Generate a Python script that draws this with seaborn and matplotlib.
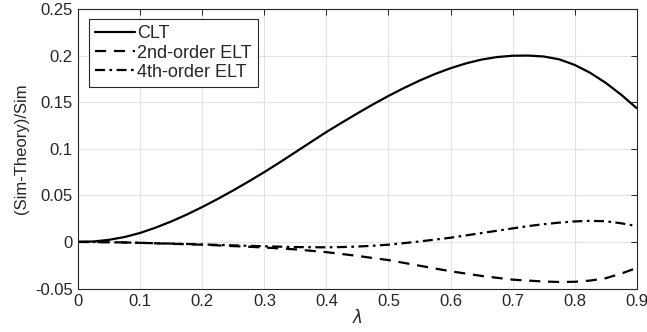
import numpy as np
import pandas as pd
import matplotlib
matplotlib.use("Agg")
import matplotlib.pyplot as plt
import seaborn as sns

lam = [round(0.025 * i, 3) for i in range(37)]
clt = [0.0, 0.0005, 0.0023, 0.0053, 0.0097, 0.0154, 0.0220, 0.0294, 0.0375, 0.0462,
       0.0554, 0.0650, 0.0750, 0.0855, 0.0963, 0.1072, 0.1180, 0.1281, 0.1380, 0.1476,
       0.1567, 0.1652, 0.1731, 0.1802, 0.1864, 0.1916, 0.1957, 0.1984, 0.1998, 0.2000,
       0.1990, 0.1960, 0.1900, 0.1815, 0.1708, 0.1580, 0.1436]
elt2 = [0.0, -0.0001, -0.0003, -0.0006, -0.001, -0.0015, -0.002, -0.0025, -0.003, -0.0037,
        -0.0045, -0.0052, -0.006, -0.007, -0.008, -0.0095, -0.011, -0.013, -0.015, -0.0173,
        -0.0195, -0.0225, -0.0255, -0.0285, -0.0315, -0.034, -0.0365, -0.0385, -0.0405, -0.0415,
        -0.0425, -0.043, -0.0428, -0.0415, -0.039, -0.034, -0.028]
elt4 = [0.0, -0.0001, -0.0003, -0.0006, -0.001, -0.0014, -0.0018, -0.0022, -0.0027, -0.0032,
        -0.0037, -0.0042, -0.0047, -0.0051, -0.0055, -0.0057, -0.0058, -0.0055, -0.005, -0.0041,
        -0.003, -0.0013, 0.0005, 0.0025, 0.0045, 0.007, 0.0095, 0.012, 0.0145, 0.017,
        0.019, 0.0207, 0.022, 0.0226, 0.0222, 0.020, 0.017]
names = ["CLT", "2nd-order ELT", "4th-order ELT"]

df = pd.DataFrame({"lam": lam * 3,
                   "val": clt + elt2 + elt4,
                   "series": [n for n in names for _ in lam]})

sns.set_style("white")
plt.rcParams["font.family"] = ["Liberation Sans", "DejaVu Sans"]

fig = plt.figure(figsize=(6.47, 3.32), dpi=100)
ax = fig.add_axes([0.121, 0.131, 0.863, 0.842])

styles = {"CLT": "-", "2nd-order ELT": (0, (5, 3.5)), "4th-order ELT": (0, (4.5, 2, 1.2, 2))}
for n in names:
    sub = df[df["series"] == n]
    sns.lineplot(data=sub, x="lam", y="val", ax=ax, color="k", lw=1.6,
                 linestyle=styles[n], label=n)

ax.set_xlim(0, 0.9)
ax.set_ylim(-0.05, 0.25)
ax.set_xticks(np.arange(0, 0.91, 0.1))
ax.set_xticklabels(["0", "0.1", "0.2", "0.3", "0.4", "0.5", "0.6", "0.7", "0.8", "0.9"])
ax.set_yticks([-0.05, 0, 0.05, 0.1, 0.15, 0.2, 0.25])
ax.set_yticklabels(["-0.05", "0", "0.05", "0.1", "0.15", "0.2", "0.25"])
ax.grid(True, color="#e3e3e3", lw=0.8)
ax.tick_params(direction="in", top=True, right=True, length=4, width=0.7,
               labelsize=12, colors="#262626", pad=4)
for s in ax.spines.values():
    s.set_color("#262626")
    s.set_linewidth(0.8)
ax.set_xlabel("$\\lambda$", fontsize=12, labelpad=-1)
ax.set_ylabel("(Sim-Theory)/Sim", fontsize=12, color="#262626", labelpad=4)
leg = ax.legend(loc="upper left", bbox_to_anchor=(0.019, 0.964), fontsize=13,
                handlelength=2.2, handletextpad=0.1, borderaxespad=0, fancybox=False,
                framealpha=1, edgecolor="#262626", labelspacing=0.12, borderpad=0.35)
leg.get_frame().set_linewidth(0.8)

fig.savefig("out.png", dpi=100)
